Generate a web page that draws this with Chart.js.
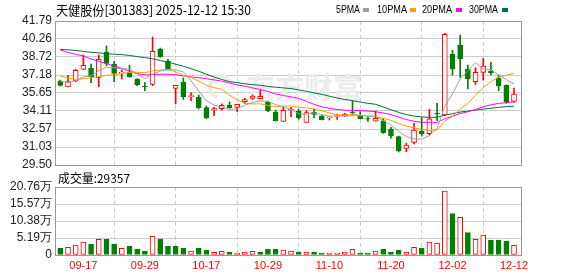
<!DOCTYPE html>
<html><head><meta charset="utf-8">
<script src="https://cdn.jsdelivr.net/npm/chart.js@4.4.1/dist/chart.umd.min.js"></script>
<style>
html,body{margin:0;padding:0;background:#fff;}
#wrap{position:relative;width:578px;height:276px;overflow:hidden;background:#fff;}
canvas{position:absolute;left:0;}
#c1{top:0;width:578px;height:176px;}
#c2{top:166px;width:578px;height:110px;}
</style></head><body>
<div id="wrap"><canvas id="c1" width="578" height="176"></canvas><canvas id="c2" width="578" height="110"></canvas></div>
<script>
const titleText = '天健股份[301383] 2025-12-12 15:30';
const volTitle = '成交量:29357';
const dates = ['09-12','09-15','09-16','09-17','09-18','09-19','09-22','09-23','09-24','09-25','09-26','09-29','09-30','10-09','10-10','10-13','10-14','10-15','10-16','10-17','10-20','10-21','10-22','10-23','10-24','10-27','10-28','10-29','10-30','10-31','11-03','11-04','11-05','11-06','11-07','11-10','11-11','11-12','11-13','11-14','11-17','11-18','11-19','11-20','11-21','11-24','11-25','11-26','11-27','11-28','12-01','12-02','12-03','12-04','12-05','12-08','12-09','12-10','12-11','12-12'];
const opens  = [36.67,36.16,36.67,37.66,37.75,36.98,39.14,38.12,37.36,37.38,36.84,36.23,36.38,39.37,38.35,36.04,36.58,35.34,35.30,34.39,34.20,34.31,34.62,34.42,34.90,35.19,35.16,34.88,34.02,33.22,34.17,34.11,33.14,33.99,33.68,33.52,33.64,33.68,34.02,33.71,33.47,33.25,33.28,32.57,31.92,30.92,31.43,32.40,32.17,33.92,33.77,38.97,39.74,37.66,36.61,37.41,37.52,36.90,36.33,34.93];
const closes = [36.30,36.61,37.58,38.01,37.04,38.52,38.17,37.32,37.44,37.04,36.36,36.19,39.20,38.75,37.66,36.30,35.33,35.42,34.39,33.54,34.31,34.59,34.39,34.68,35.08,35.39,35.37,34.11,33.28,34.17,34.25,33.54,33.97,33.82,33.37,33.60,33.71,33.85,33.97,33.45,33.42,33.48,32.26,31.98,30.72,31.21,32.49,32.17,33.43,33.88,40.65,37.69,38.57,36.87,37.41,37.95,37.38,36.27,34.88,35.56];
const highs  = [36.75,37.15,37.66,38.89,38.12,38.89,39.66,38.35,37.61,38.01,36.87,36.53,40.42,39.48,38.52,36.30,36.93,35.67,35.47,34.53,34.42,34.71,34.90,34.68,35.19,35.47,35.87,34.96,34.19,34.45,34.42,34.25,34.14,34.25,33.77,33.62,33.85,33.91,34.96,34.05,33.62,34.11,33.48,32.71,31.97,31.36,33.06,33.54,34.25,34.76,40.74,39.29,40.59,38.03,37.81,38.60,38.26,37.18,36.33,36.07];
const lows   = [36.24,36.16,36.61,37.66,36.53,36.19,37.98,36.61,36.84,36.98,36.27,35.84,36.27,38.69,37.61,34.71,35.10,34.99,34.28,33.45,33.71,34.19,34.34,34.05,34.76,35.10,35.16,34.05,33.25,33.22,33.62,33.40,33.14,33.54,33.34,33.34,33.40,33.62,33.77,33.43,33.23,33.25,32.20,31.78,30.61,30.64,31.29,31.97,32.06,33.28,33.71,37.18,36.98,35.99,36.38,36.75,37.18,35.84,34.76,34.85];
const volumes = [21400,23400,30500,39700,33600,47800,48800,33600,20400,27500,18300,12200,57000,48800,27500,27500,21400,12200,21400,15300,8100,11200,9200,6100,9200,11200,9200,18300,18300,15300,12200,9200,9200,9200,6100,6100,6100,9200,17300,6100,6100,12200,18300,9200,15300,9200,23400,21400,39700,36600,195400,126200,115000,68200,47800,61100,45800,45800,42700,29357];
const ma5  = [36.65,36.55,36.70,37.00,37.11,37.55,37.86,37.81,37.70,37.70,37.27,36.87,37.25,37.51,37.63,37.62,37.45,36.69,35.82,35.00,34.60,34.45,34.24,34.30,34.61,34.83,34.98,34.93,34.65,34.46,34.24,33.87,33.84,33.95,33.79,33.66,33.69,33.67,33.70,33.72,33.68,33.63,33.32,32.92,32.37,31.93,31.73,31.71,32.00,32.64,34.52,35.56,36.84,37.53,38.24,37.70,37.64,37.18,36.78,36.41];
const ma10 = [37.10,36.88,36.82,36.85,36.95,37.05,37.15,37.22,37.30,37.40,37.41,37.37,37.53,37.60,37.67,37.44,37.16,36.97,36.66,36.31,36.11,35.95,35.47,35.06,34.80,34.71,34.72,34.59,34.47,34.54,34.53,34.43,34.38,34.30,34.13,33.95,33.78,33.76,33.83,33.75,33.67,33.66,33.49,33.31,33.04,32.81,32.68,32.52,32.46,32.50,33.23,33.65,34.28,34.77,35.44,36.11,36.60,37.01,37.16,37.32];
const ma20 = [39.31,39.10,38.95,38.80,38.55,38.35,38.15,37.95,37.75,37.50,37.30,37.18,37.22,37.25,37.25,37.20,37.10,37.02,36.95,36.86,36.76,36.66,36.50,36.33,36.23,36.08,35.94,35.78,35.57,35.43,35.32,35.19,34.93,34.68,34.47,34.33,34.25,34.17,34.15,34.15,34.10,34.05,33.94,33.80,33.59,33.38,33.23,33.14,33.14,33.13,33.45,33.66,33.89,34.04,34.24,34.46,34.64,34.76,34.81,34.91];
const ma30 = [39.37,39.33,39.27,39.20,39.12,39.07,39.00,38.96,38.92,38.85,38.75,38.66,38.56,38.42,38.28,38.10,37.93,37.72,37.50,37.25,37.00,36.80,36.62,36.53,36.43,36.36,36.30,36.21,36.14,36.08,36.02,35.91,35.79,35.65,35.53,35.37,35.22,35.10,34.99,34.87,34.77,34.68,34.45,34.22,33.99,33.80,33.68,33.60,33.57,33.57,33.75,33.88,34.02,34.10,34.18,34.27,34.34,34.42,34.48,34.53];
const priceTicks = [29.50,31.03,32.57,34.11,35.65,37.18,38.72,40.26,41.79];
const volTickValues = [0,51900,103800,155700,207600];
const volTickLabels = ['0','5.19万','10.38万','15.57万','20.76万'];
const xTickLabels = ['09-17','09-29','10-17','10-29','11-10','11-20','12-02','12-12'];
const maNames = ['5PMA','10PMA','20PMA','30PMA'];

const RED = '#ff0000', GRN = '#008000';
const MA_COLORS = ['#a0a0a0','#f5a200','#ff00ff','#00703a'];
const GRID = '#cccccc';
const isUp = i => closes[i] >= opens[i];
const volUp = i => i === 0 ? closes[0] >= opens[0] : closes[i] > closes[i-1];
const di = c => (c && c.dataIndex != null) ? c.dataIndex : 0;

const X_MIN = -0.69, X_MAX = 60.04;
const xTicksBuild = s => { s.ticks = xTickLabels.map(l => ({ value: dates.indexOf(l) })); };

const framePlugin = {
  id: 'frame',
  afterDraw(chart) {
    const { ctx, chartArea: a } = chart;
    ctx.save();
    ctx.strokeStyle = '#999999';
    ctx.lineWidth = 1;
    ctx.strokeRect(Math.round(a.left) + 0.5, Math.round(a.top) + 0.5, Math.round(a.right - a.left) - 1, Math.round(a.bottom - a.top));
    ctx.restore();
  }
};

const pricePlugin = {
  id: 'priceText',
  beforeDatasetsDraw(chart) {
    const { ctx } = chart;
    ctx.save();
    ctx.fillStyle = '#ececec';
    ctx.font = 'bold 29px "Noto Sans CJK SC"';
    ctx.textBaseline = 'middle';
    ctx.textAlign = 'left';
    ctx.fillText('东方财富', 246, 88, 132);
    ctx.strokeStyle = '#ececec';
    ctx.lineWidth = 4;
    ctx.beginPath();
    ctx.arc(221, 87, 11, Math.PI * 0.6, Math.PI * 2.1);
    ctx.stroke();
    ctx.restore();
  },
  afterDraw(chart) {
    const { ctx } = chart;
    ctx.save();
    ctx.fillStyle = '#000';
    ctx.textBaseline = 'middle';
    ctx.textAlign = 'left';
    ctx.font = '13px "Noto Sans CJK SC"';
    ctx.fillText(titleText, 56, 10, 195);
    ctx.font = '11px "Liberation Sans"';
    const lx = [336, 377, 422, 469], lw = [24, 30, 30, 29], sx = [363, 410, 456, 502];
    maNames.forEach((n, k) => {
      ctx.fillStyle = '#000';
      ctx.fillText(n, lx[k], 10, lw[k]);
      ctx.fillStyle = MA_COLORS[k];
      ctx.fillRect(sx[k], 8, 6, 4);
    });
    ctx.restore();
  }
};

const volPlugin = {
  id: 'volText',
  afterDraw(chart) {
    const { ctx } = chart;
    ctx.save();
    ctx.fillStyle = '#000';
    ctx.textBaseline = 'middle';
    ctx.textAlign = 'left';
    ctx.font = '12px "Noto Sans CJK SC"';
    ctx.fillText(volTitle, 58, 12, 72);
    ctx.restore();
  }
};

const lineSets = [ma5, ma10, ma20, ma30].map((arr, k) => ({
  type: 'line',
  data: arr.map((y, i) => ({ x: i, y })),
  borderColor: MA_COLORS[k],
  borderWidth: 1,
  pointRadius: 0,
  tension: 0,
  order: 0
}));

new Chart(document.getElementById('c1'), {
  data: {
    datasets: [
      ...lineSets,
      {
        type: 'bar',
        data: opens.map((o, i) => ({ x: i, y: [o, closes[i]] })),
        backgroundColor: c => isUp(di(c)) ? '#ffffff' : GRN,
        borderColor: c => isUp(di(c)) ? RED : GRN,
        borderWidth: 1,
        borderSkipped: false,
        barThickness: 5,
        grouped: false,
        order: 1
      },
      {
        type: 'bar',
        data: lows.map((l, i) => ({ x: i, y: [l, highs[i]] })),
        backgroundColor: c => isUp(di(c)) ? RED : GRN,
        borderWidth: 0,
        barThickness: 1,
        grouped: false,
        order: 2
      }
    ]
  },
  options: {
    responsive: false, animation: false, events: [],
    layout: { padding: { top: 21, right: 56, bottom: 11, left: 0 } },
    plugins: { legend: { display: false }, tooltip: { enabled: false } },
    scales: {
      x: {
        type: 'linear', min: X_MIN, max: X_MAX, offset: false,
        afterBuildTicks: xTicksBuild,
        afterFit: s => { s.height = 0; },
        ticks: { display: false },
        grid: { color: GRID, drawTicks: false },
        border: { display: false, dash: [4, 3] }
      },
      y: {
        min: 29.5, max: 41.79,
        afterBuildTicks: s => { s.ticks = priceTicks.map(v => ({ value: v })); },
        afterFit: s => { s.width = 55; },
        ticks: { autoSkip: false, callback: v => Number(v).toFixed(2), padding: 3, color: '#222', font: { family: 'Liberation Sans', size: 12 } },
        grid: { color: GRID, drawTicks: false },
        border: { display: false }
      }
    }
  },
  plugins: [pricePlugin, framePlugin]
});

new Chart(document.getElementById('c2'), {
  type: 'bar',
  data: {
    datasets: [{
      data: volumes.map((v, i) => ({ x: i, y: v })),
      backgroundColor: c => volUp(di(c)) ? '#ffffff' : GRN,
      borderColor: c => volUp(di(c)) ? RED : GRN,
      borderWidth: 1,
      borderSkipped: false,
      barThickness: 5,
      grouped: false
    }]
  },
  options: {
    responsive: false, animation: false, events: [],
    layout: { padding: { top: 21, right: 56, bottom: 0, left: 0 } },
    plugins: { legend: { display: false }, tooltip: { enabled: false } },
    scales: {
      x: {
        type: 'linear', min: X_MIN, max: X_MAX, offset: false,
        afterBuildTicks: xTicksBuild,
        afterFit: s => { s.height = 21; },
        ticks: { callback: v => dates[v] || '', color: RED, padding: 4, maxRotation: 0, autoSkip: false, font: { family: 'Liberation Sans', size: 11 } },
        grid: { color: GRID, drawTicks: false },
        border: { display: false, dash: [4, 3] }
      },
      y: {
        min: 0, max: 207600,
        afterBuildTicks: s => { s.ticks = volTickValues.map(v => ({ value: v })); },
        afterFit: s => { s.width = 55; },
        ticks: { autoSkip: false, callback: v => volTickLabels[volTickValues.indexOf(v)], padding: 3, color: '#222', font: { family: 'Liberation Sans', size: 12 } },
        grid: { color: GRID, drawTicks: false },
        border: { display: false }
      }
    }
  },
  plugins: [volPlugin, framePlugin]
});
</script>
</body></html>
